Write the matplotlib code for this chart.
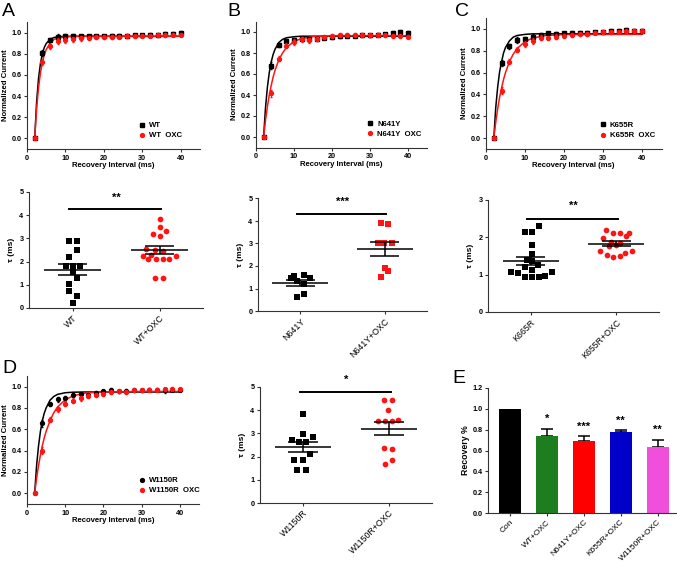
import matplotlib
matplotlib.use('Agg')
import matplotlib.pyplot as plt
import numpy as np

plt.rcParams['font.family'] = ['Liberation Sans', 'DejaVu Sans']

RED = '#ff1414'

# ---- courbes de recuperation (panneaux du haut) ----
t_ms = [2, 4, 6, 8, 10, 12, 14, 16, 18, 20, 22, 24, 26, 28, 30, 32, 34, 36, 38, 40]
t_fit = [2, 2.5, 3, 3.5, 4, 4.5, 5, 6, 7, 8, 10, 12, 15, 20, 30, 40]

wt_cur = [0.0, 0.81, 0.93, 0.96, 0.965, 0.965, 0.965, 0.965, 0.965, 0.965,
          0.965, 0.97, 0.97, 0.975, 0.975, 0.98, 0.98, 0.985, 0.99, 1.0]
wt_oxc_cur = [0.0, 0.725, 0.87, 0.92, 0.93, 0.935, 0.945, 0.95, 0.955, 0.955,
              0.96, 0.96, 0.965, 0.965, 0.97, 0.97, 0.975, 0.975, 0.98, 0.98]
wt_fit = [0.0, 0.345, 0.567, 0.709, 0.80, 0.86, 0.897, 0.937, 0.953, 0.96,
          0.964, 0.965, 0.965, 0.965, 0.965, 0.965]
wt_oxc_fit = [0.0, 0.28, 0.479, 0.62, 0.72, 0.79, 0.84, 0.90, 0.934, 0.949,
              0.961, 0.964, 0.965, 0.965, 0.965, 0.965]

n641_cur = [0.0, 0.68, 0.88, 0.91, 0.92, 0.93, 0.93, 0.935, 0.945, 0.95,
            0.96, 0.965, 0.965, 0.97, 0.97, 0.975, 0.98, 0.99, 1.0, 0.995]
n641_oxc_cur = [0.0, 0.415, 0.745, 0.87, 0.905, 0.93, 0.92, 0.93, 0.95, 0.96,
                0.97, 0.975, 0.97, 0.975, 0.97, 0.975, 0.97, 0.96, 0.96, 0.955]
n641_fit = [0.0, 0.28, 0.475, 0.615, 0.715, 0.785, 0.835, 0.90, 0.93, 0.945,
            0.955, 0.96, 0.96, 0.96, 0.96, 0.96]
n641_oxc_fit = [0.0, 0.158, 0.29, 0.40, 0.49, 0.57, 0.634, 0.735, 0.80, 0.852,
                0.91, 0.938, 0.956, 0.963, 0.965, 0.965]

k655_cur = [0.0, 0.686, 0.84, 0.90, 0.905, 0.93, 0.945, 0.96, 0.955, 0.96,
            0.96, 0.965, 0.965, 0.97, 0.975, 0.98, 0.985, 0.99, 0.985, 0.98]
k655_oxc_cur = [0.0, 0.434, 0.70, 0.81, 0.86, 0.89, 0.92, 0.915, 0.93, 0.935,
                0.945, 0.95, 0.955, 0.965, 0.97, 0.97, 0.975, 0.98, 0.985, 0.985]
k655_fit = [0.0, 0.28, 0.47, 0.61, 0.70, 0.78, 0.83, 0.89, 0.925, 0.94,
            0.95, 0.955, 0.955, 0.955, 0.955, 0.955]
k655_oxc_fit = [0.0, 0.146, 0.27, 0.375, 0.46, 0.537, 0.60, 0.70, 0.77, 0.82,
                0.885, 0.916, 0.938, 0.948, 0.95, 0.95]

w1150_cur = [0.0, 0.655, 0.84, 0.88, 0.89, 0.92, 0.93, 0.92, 0.94, 0.955,
             0.97, 0.955, 0.96, 0.965, 0.965, 0.97, 0.97, 0.965, 0.97, 0.97]
w1150_oxc_cur = [0.0, 0.40, 0.69, 0.786, 0.84, 0.87, 0.89, 0.91, 0.92, 0.93,
                 0.95, 0.955, 0.95, 0.97, 0.965, 0.97, 0.97, 0.975, 0.98, 0.975]
w1150_fit = [0.0, 0.255, 0.44, 0.578, 0.68, 0.75, 0.80, 0.872, 0.908, 0.928,
             0.943, 0.948, 0.95, 0.95, 0.95, 0.95]
w1150_oxc_fit = [0.0, 0.138, 0.256, 0.357, 0.444, 0.518, 0.58, 0.68, 0.755, 0.81,
                 0.877, 0.913, 0.939, 0.951, 0.955, 0.955]

# erreurs (SEM) approximatives
err_ctrl = [0.0, 0.03, 0.02, 0.025, 0.02, 0.02, 0.015, 0.015, 0.015, 0.015,
            0.02, 0.015, 0.015, 0.015, 0.015, 0.015, 0.015, 0.02, 0.015, 0.015]
err_oxc = [0.0, 0.03, 0.025, 0.025, 0.025, 0.025, 0.02, 0.02, 0.02, 0.02,
           0.02, 0.015, 0.02, 0.015, 0.015, 0.015, 0.015, 0.015, 0.015, 0.015]

# ---- constantes de temps tau (ms) ----
wt_tau = [2.9, 2.9, 2.5, 2.2, 1.8, 1.8, 1.8, 1.55, 1.3, 1.05, 0.75, 0.53, 0.2]
wt_dx = [-0.04, 0.05, 0.05, -0.04, -0.075, 0, 0.085, 0, 0.05, -0.04, -0.04, 0.05, 0]
wt_oxc_tau = [3.82, 3.5, 3.2, 3.3, 3.1, 2.55, 2.5, 2.45, 2.3, 2.25, 2.25,
              2.1, 2.1, 2.1, 2.1, 1.3, 1.3]
wt_oxc_dx = [0, 0, -0.075, 0.075, 0, -0.15, -0.057, 0.038, -0.095, -0.19, 0.19,
             -0.13, -0.038, 0.038, 0.11, -0.057, 0.038]

n641_tau = [1.45, 1.55, 1.6, 1.45, 1.35, 1.2, 0.64, 0.74]
n641_dx = [-0.11, -0.07, 0.04, 0.12, -0.04, 0.04, -0.04, 0.04]
n641_oxc_tau = [3.93, 3.87, 3.0, 3.0, 3.0, 1.9, 1.78, 1.53]
n641_oxc_dx = [-0.04, 0.04, -0.08, -0.01, 0.08, 0.0, 0.04, -0.04]

k655_tau = [2.29, 2.14, 2.14, 1.8, 1.55, 1.4, 1.35, 1.26, 1.21, 1.12,
            1.08, 1.04, 1.08, 0.96, 0.93, 0.93, 0.93]
k655_dx = [0.1, -0.07, 0.02, 0.02, 0.02, -0.04, 0.02, 0.08, -0.07, 0.02,
           -0.23, -0.15, 0.25, 0.17, 0.1, 0.02, -0.07]
k655_oxc_tau = [2.2, 2.11, 2.1, 2.12, 1.98, 2.03, 1.88, 1.85, 1.64, 1.52,
                1.63, 1.58, 1.46, 1.5, 1.79, 1.75]
k655_oxc_dx = [-0.12, -0.04, 0.04, 0.15, -0.16, 0.11, -0.06, 0.04, -0.19, -0.11,
               0.18, 0.1, -0.04, 0.04, 0.0, -0.08]

w1150_tau = [3.84, 2.99, 2.84, 2.7, 2.63, 2.63, 2.13, 1.87, 1.87, 1.44, 1.44]
w1150_dx = [0.0, 0.0, 0.12, -0.13, -0.05, 0.04, 0.08, -0.1, 0.0, -0.07, 0.03]
w1150_oxc_tau = [4.43, 4.43, 4.02, 3.53, 3.53, 3.53, 3.56, 2.37, 2.34, 1.87, 1.67]
w1150_oxc_dx = [-0.06, 0.03, -0.01, -0.13, -0.05, 0.03, 0.1, -0.06, 0.03, 0.03, -0.05]

# ---- panneau E ----
e_labels = ['Con', 'WT+OXC', 'N641Y+OXC', 'K655R+OXC', 'W1150R+OXC']
e_recovery = [1.0, 0.735, 0.69, 0.775, 0.635]
e_sem = [0.0, 0.075, 0.045, 0.02, 0.07]
e_stars = ['', '*', '***', '**', '**']
e_colors = ['#000000', '#1e7d1e', '#ff0000', '#0000c8', '#f04fdc']

W, H = 677, 562
fig = plt.figure(figsize=(W / 100, H / 100), dpi=100)


def px_axes(left, right, top, bottom):
    return fig.add_axes([left / W, 1 - bottom / H, (right - left) / W, (bottom - top) / H])


def style(ax, fs=5.2):
    for s in ['top', 'right']:
        ax.spines[s].set_visible(False)
    for s in ['left', 'bottom']:
        ax.spines[s].set_linewidth(0.8)
        ax.spines[s].set_color('#333333')
    ax.tick_params(direction='out', length=2.5, width=0.8, labelsize=fs, pad=1.5,
                   color='#333333')
    for lab in ax.get_xticklabels() + ax.get_yticklabels():
        lab.set_fontweight('bold')


def recovery_panel(ax, ctrl, oxc, ctrl_fit, oxc_fit, name, ctrl_marker):
    ax.plot(t_fit, ctrl_fit, color='k', lw=1.1, zorder=2)
    ax.plot(t_fit, oxc_fit, color=RED, lw=1.1, zorder=3)
    ax.errorbar(t_ms, ctrl, yerr=err_ctrl, fmt=ctrl_marker, color='k', ms=2.8,
                elinewidth=0.7, capsize=1, zorder=4)
    ax.errorbar(t_ms, oxc, yerr=err_oxc, fmt='o', color=RED, ms=2.8,
                elinewidth=0.7, capsize=1, zorder=5)
    ax.set_xlim(0, 45)
    ax.set_ylim(-0.1, 1.1)
    ax.set_xticks([0, 10, 20, 30, 40])
    ax.set_yticks([0.0, 0.2, 0.4, 0.6, 0.8, 1.0])
    ax.set_yticklabels(['0.0', '0.2', '0.4', '0.6', '0.8', '1.0'])
    ax.set_xlabel('Recovery Interval (ms)', fontsize=5.6, fontweight='bold', labelpad=0.5)
    ax.set_ylabel('Normalized Current', fontsize=5.6, fontweight='bold', labelpad=2)
    h1 = ax.plot([], [], ctrl_marker, color='k', ms=2.8)[0]
    h2 = ax.plot([], [], 'o', color=RED, ms=2.8)[0]
    ax.legend([h1, h2], [name, name + '  OXC'], loc='lower left',
              bbox_to_anchor=(0.6, 0.02), frameon=False, handlelength=1.2,
              handletextpad=0.3, labelspacing=0.35,
              prop={'size': 5.6, 'weight': 'bold'})
    style(ax)


def tau_panel(ax, groups, labels, ymax, sig_y, star_y, stars):
    for i, (vals, dx, color, marker) in enumerate(groups):
        vals = np.array(vals)
        ax.scatter(i + np.array(dx), vals, marker=marker, s=17, color=color,
                   linewidths=0, zorder=2)
        m = vals.mean()
        sem = vals.std(ddof=1) / np.sqrt(len(vals))
        ax.hlines(m, i - 0.33, i + 0.33, color='k', lw=1.1, zorder=3)
        ax.hlines([m - sem, m + sem], i - 0.17, i + 0.17, color='k', lw=1.1, zorder=3)
        ax.vlines(i, m - sem, m + sem, color='k', lw=1.1, zorder=3)
    ax.plot([-0.04, 1.02], [sig_y, sig_y], color='k', lw=1.4, clip_on=False)
    ax.text(0.5, star_y, stars, ha='center', va='center', fontsize=8,
            fontweight='bold', clip_on=False)
    ax.set_xlim(-0.5, 1.5)
    ax.set_ylim(0, ymax)
    ax.set_yticks(range(0, ymax + 1))
    ax.set_xticks([0, 1])
    ax.set_xticklabels(labels, rotation=45, ha='right', rotation_mode='anchor')
    ax.set_ylabel('\u03c4 (ms)', fontsize=6, fontweight='bold', labelpad=3)
    style(ax)
    for lab in ax.get_xticklabels():
        lab.set_fontsize(6.3)
        lab.set_fontweight('normal')


# A
axA = px_axes(27, 200, 22, 149)
recovery_panel(axA, wt_cur, wt_oxc_cur, wt_fit, wt_oxc_fit, 'WT', 's')
axA2 = px_axes(29, 203, 191.75, 308)
tau_panel(axA2, [(wt_tau, wt_dx, 'k', 's'), (wt_oxc_tau, wt_oxc_dx, RED, 'o')],
          ['WT', 'WT+OXC'], 5, 4.27, 4.75, '**')

# B
axB = px_axes(256, 427, 21.5, 147.5)
recovery_panel(axB, n641_cur, n641_oxc_cur, n641_fit, n641_oxc_fit, 'N641Y', 's')
axB2 = px_axes(258, 427, 198.5, 311)
tau_panel(axB2, [(n641_tau, n641_dx, 'k', 's'), (n641_oxc_tau, n641_oxc_dx, RED, 's')],
          ['N641Y', 'N641Y+OXC'], 5, 4.31, 4.85, '***')

# C
axC = px_axes(486, 661.5, 18, 149)
recovery_panel(axC, k655_cur, k655_oxc_cur, k655_fit, k655_oxc_fit, 'K655R', 's')
axC2 = px_axes(488, 659, 199.5, 312)
tau_panel(axC2, [(k655_tau, k655_dx, 'k', 's'), (k655_oxc_tau, k655_oxc_dx, RED, 'o')],
          ['K665R', 'K655R+OXC'], 3, 2.48, 2.84, '**')

# D
axD = px_axes(27, 199, 376, 504)
recovery_panel(axD, w1150_cur, w1150_oxc_cur, w1150_fit, w1150_oxc_fit, 'W1150R', 'o')
axD2 = px_axes(260, 432, 387, 503)
tau_panel(axD2, [(w1150_tau, w1150_dx, 'k', 's'), (w1150_oxc_tau, w1150_oxc_dx, RED, 'o')],
          ['W1150R', 'W1150R+OXC'], 5, 4.78, 5.3, '*')

# E
axE = px_axes(488, 676, 388, 513)
xe = np.arange(len(e_labels))
axE.bar(xe, e_recovery, width=0.6, color=e_colors, zorder=2)
axE.errorbar(xe[1:], e_recovery[1:], yerr=[np.zeros(len(xe) - 1), e_sem[1:]],
             fmt='none', ecolor='k', elinewidth=1.1, capsize=4.5, capthick=1.1, zorder=1)
for x, v, e, s in zip(xe, e_recovery, e_sem, e_stars):
    if s:
        axE.text(x, v + e + 0.09, s, ha='center', va='center', fontsize=8,
                 fontweight='bold')
axE.set_xlim(-0.6, 4.5)
axE.set_ylim(0, 1.2)
axE.set_yticks([0.0, 0.2, 0.4, 0.6, 0.8, 1.0, 1.2])
axE.set_yticklabels(['0.0', '0.2', '0.4', '0.6', '0.8', '1.0', '1.2'])
axE.set_xticks(xe)
axE.set_xticklabels(e_labels, rotation=45, ha='right', rotation_mode='anchor')
axE.set_ylabel('Recovery %', fontsize=6.3, fontweight='bold', labelpad=2)
style(axE)
for lab in axE.get_xticklabels():
    lab.set_fontsize(6)
    lab.set_fontweight('normal')

# lettres des panneaux
for letter, x, y in [('A', 2, 3), ('B', 227, 3), ('C', 455, 3), ('D', 2, 360), ('E', 452, 370)]:
    fig.text(x / W, 1 - y / H, letter, fontsize=14, va='top', ha='left')

fig.savefig('out.png', dpi=100)
